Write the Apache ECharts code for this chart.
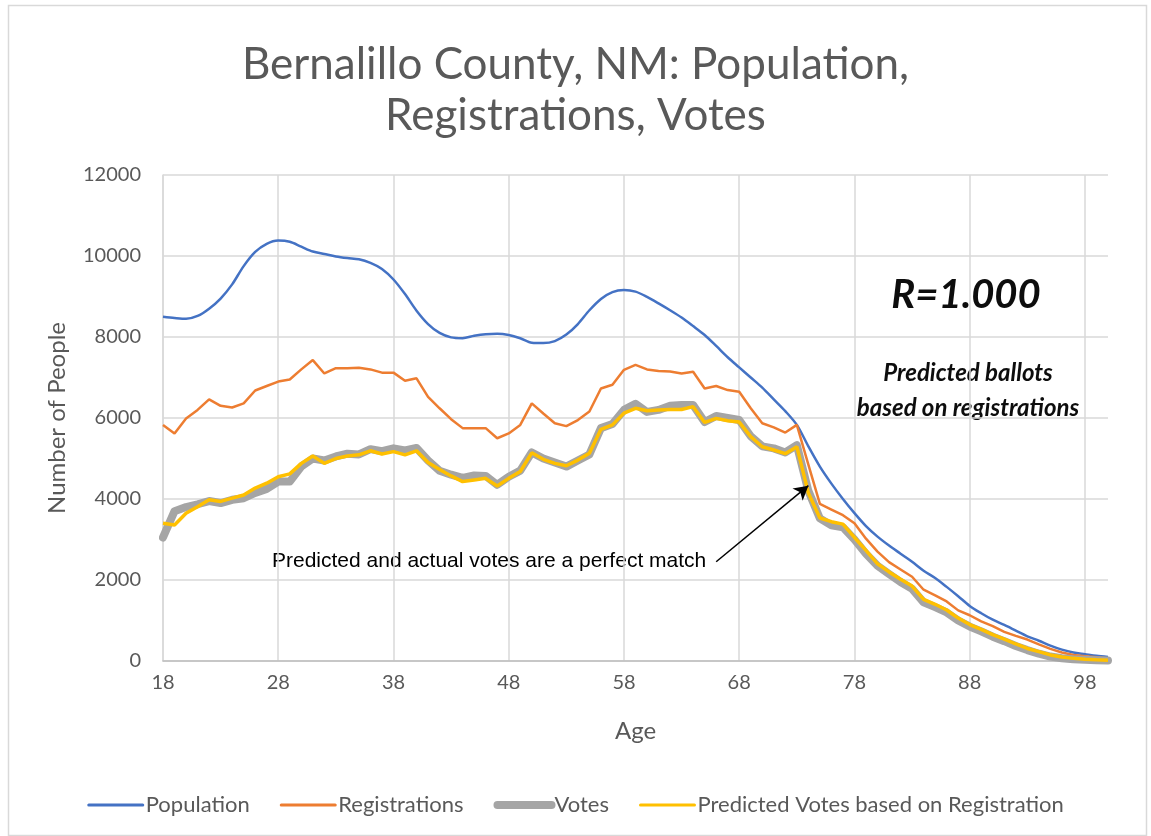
<!DOCTYPE html>
<html>
<head>
<meta charset="utf-8">
<script src="https://cdn.jsdelivr.net/npm/echarts@6/dist/echarts.min.js"></script>
<style>
html,body{margin:0;padding:0;background:#fff;}
#chart{width:1151px;height:836px;}
</style>
</head>
<body>
<div id="chart"></div>
<script>
// Ages 18..100
const ages = [];
for (let a = 18; a <= 100; a++) ages.push(String(a));

const population = [
  8500, 8470, 8450, 8520, 8700, 8950, 9300, 9750, 10100, 10300,   // 18-27
  10380, 10350, 10230, 10110, 10050, 9990, 9950, 9920, 9830, 9680, // 28-37
  9420, 9060, 8650, 8320, 8100, 7990, 7970, 8030, 8070, 8080,      // 38-47
  8050, 7970, 7860, 7850, 7900, 8060, 8320, 8660, 8940, 9110,      // 48-57
  9160, 9120, 8990, 8830, 8660, 8480, 8270, 8050, 7780, 7500,      // 58-67
  7250, 7000, 6750, 6460, 6170, 5830, 5300, 4800, 4380, 4000,      // 68-77
  3650, 3330, 3070, 2850, 2650, 2450, 2230, 2050, 1830, 1600,      // 78-87
  1360, 1180, 1020, 890, 750, 610, 500, 380, 280, 210,             // 88-97
  170, 130, 100                                                    // 98-100
];

const registrations = [
  5830, 5620, 5990, 6200, 6460, 6300, 6260, 6360, 6680, 6790,
  6900, 6950, 7200, 7430, 7100, 7230, 7230, 7240, 7200, 7120,
  7120, 6920, 6980, 6520, 6240, 5970, 5750, 5750, 5750, 5500,
  5620, 5830, 6360, 6110, 5870, 5800, 5950, 6160, 6730, 6820,
  7190, 7310, 7200, 7160, 7150, 7100, 7140, 6730, 6790, 6690,
  6650, 6240, 5870, 5770, 5640, 5830, 4850, 3880, 3740, 3600,
  3400, 3020, 2700, 2440, 2260, 2080, 1760, 1620, 1470, 1250,
  1130, 980, 860, 720, 620, 530, 410, 300, 210, 150,
  120, 90, 60
];

const votes = [
  3050, 3700, 3800, 3870, 3950, 3900, 3980, 4020, 4150, 4250,
  4430, 4430, 4800, 5000, 4950, 5050, 5120, 5100, 5230, 5180,
  5250, 5200, 5260, 4950, 4700, 4600, 4520, 4580, 4570, 4350,
  4550, 4700, 5150, 5000, 4900, 4800, 4950, 5100, 5750, 5850,
  6200, 6350, 6150, 6200, 6300, 6320, 6320, 5900, 6050, 6000,
  5950, 5550, 5300, 5250, 5150, 5330, 4200, 3520, 3350, 3300,
  3000, 2650, 2350, 2150, 1950, 1780, 1450, 1330, 1200, 1000,
  850, 730, 600, 490, 370, 270, 180, 110, 70, 45,
  30, 20, 15
];

const predicted = [
  3400, 3360, 3650, 3810, 3980, 3940, 4020, 4100, 4270, 4390,
  4550, 4620, 4880, 5060, 4880, 5000, 5060, 5090, 5190, 5110,
  5170, 5090, 5190, 4900, 4730, 4570, 4430, 4470, 4510, 4320,
  4510, 4680, 5140, 4980, 4880, 4820, 4960, 5130, 5720, 5830,
  6120, 6240, 6180, 6200, 6210, 6210, 6280, 5890, 5990, 5930,
  5900, 5540, 5290, 5210, 5120, 5290, 4150, 3530, 3440, 3380,
  3050, 2730, 2400, 2200, 2020, 1850, 1520, 1400, 1260, 1060,
  900, 780, 650, 540, 420, 310, 230, 150, 100, 65,
  45, 30, 20
];

const seriesNames = ['Population', 'Registrations', 'Votes', 'Predicted Votes based on Registration'];
const seriesColors = ['#4472C4', '#ED7D31', '#A5A5A5', '#FFC000'];
const seriesWidths = [2.5, 2.5, 8, 3.5];
const titleText = 'Bernalillo County, NM: Population,\nRegistrations, Votes';

const calibri = 'Lato, "Open Sans", sans-serif';
const grey = '#595959';

const chart = echarts.init(document.getElementById('chart'), null, {renderer: 'canvas'});

chart.setOption({
  backgroundColor: '#ffffff',
  animation: false,
  title: {
    text: titleText,
    left: 'center',
    top: 34,
    textStyle: {fontFamily: calibri, fontSize: 44, fontWeight: 'normal', color: grey, lineHeight: 51}
  },
  grid: {left: 163, top: 175, right: 43, bottom: 175, containLabel: false},
  legend: {
    data: seriesNames.map((n, i) => ({
      name: n,
      itemStyle: {opacity: 0},
      lineStyle: {color: seriesColors[i], width: i === 2 ? 8 : 3, cap: 'round', opacity: 1}
    })),
    top: 789,
    left: 'center',
    itemWidth: 54,
    itemHeight: 10,
    itemGap: 30,
    textStyle: {fontFamily: calibri, fontSize: 22, color: grey, padding: [0, 0, 0, -2]}
  },
  xAxis: {
    type: 'category',
    data: ages,
    boundaryGap: false,
    name: 'Age',
    nameLocation: 'middle',
    nameGap: 58,
    nameTextStyle: {fontFamily: calibri, fontSize: 24, color: grey},
    axisLine: {show: true, lineStyle: {color: '#bfbfbf', width: 1.5}},
    axisTick: {show: false},
    axisLabel: {interval: 9, fontFamily: calibri, fontSize: 20, color: grey, margin: 12},
    splitLine: {show: true, interval: 9, lineStyle: {color: '#d9d9d9', width: 1.5}}
  },
  yAxis: {
    type: 'value',
    min: 0,
    max: 12000,
    interval: 2000,
    name: 'Number of People',
    nameLocation: 'middle',
    nameGap: 94,
    nameRotate: 90,
    nameTextStyle: {fontFamily: calibri, fontSize: 24, color: grey},
    axisLine: {show: true, lineStyle: {color: '#d9d9d9', width: 1.5}},
    axisTick: {show: false},
    axisLabel: {fontFamily: calibri, fontSize: 20, color: grey, margin: 22, formatter: v => String(v)},
    splitLine: {show: true, lineStyle: {color: '#d9d9d9', width: 1.5}}
  },
  series: [
    {
      name: seriesNames[0], type: 'line', data: population, symbol: 'none', smooth: 0.3,
      itemStyle: {color: seriesColors[0]},
      lineStyle: {color: seriesColors[0], width: seriesWidths[0]}
    },
    {
      name: seriesNames[1], type: 'line', data: registrations, symbol: 'none',
      itemStyle: {color: seriesColors[1]},
      lineStyle: {color: seriesColors[1], width: seriesWidths[1]}
    },
    {
      name: seriesNames[2], type: 'line', data: votes, symbol: 'none',
      itemStyle: {color: seriesColors[2]},
      lineStyle: {color: seriesColors[2], width: seriesWidths[2], cap: 'round', join: 'round'}
    },
    {
      name: seriesNames[3], type: 'line', data: predicted, symbol: 'none',
      itemStyle: {color: seriesColors[3]},
      lineStyle: {color: seriesColors[3], width: seriesWidths[3]},
      markLine: {
        silent: true,
        symbol: ['none', 'arrow'],
        symbolSize: [12, 14],
        label: {show: false},
        lineStyle: {color: '#000000', width: 1.5, type: 'solid'},
        data: [[{coord: ['66', 2450]}, {coord: ['74', 4330]}]]
      }
    }
  ],
  graphic: [
    {
      type: 'rect', left: 6, top: 3, silent: true,
      shape: {width: 1138, height: 830},
      style: {fill: 'none', stroke: '#d9d9d9', lineWidth: 1.5}
    },
    {
      type: 'text', x: 272, y: 561,
      style: {text: 'Predicted and actual votes are a perfect match', font: '21px "Liberation Sans", Arial, sans-serif', fill: '#000', textAlign: 'left', textVerticalAlign: 'middle'}
    },
    {
      type: 'text', x: 966, y: 295,
      style: {text: 'R=1.000', font: 'italic bold 40px ' + calibri, fill: '#0d0d0d', textAlign: 'center', textVerticalAlign: 'middle'}
    },
    {
      type: 'text', x: 968, y: 373,
      style: {text: 'Predicted ballots', font: 'italic bold 24px ' + calibri, fill: '#0d0d0d', textAlign: 'center', textVerticalAlign: 'middle'}
    },
    {
      type: 'text', x: 968, y: 408,
      style: {text: 'based on registrations', font: 'italic bold 24px ' + calibri, fill: '#0d0d0d', textAlign: 'center', textVerticalAlign: 'middle'}
    }
  ]
});
</script>
</body>
</html>
